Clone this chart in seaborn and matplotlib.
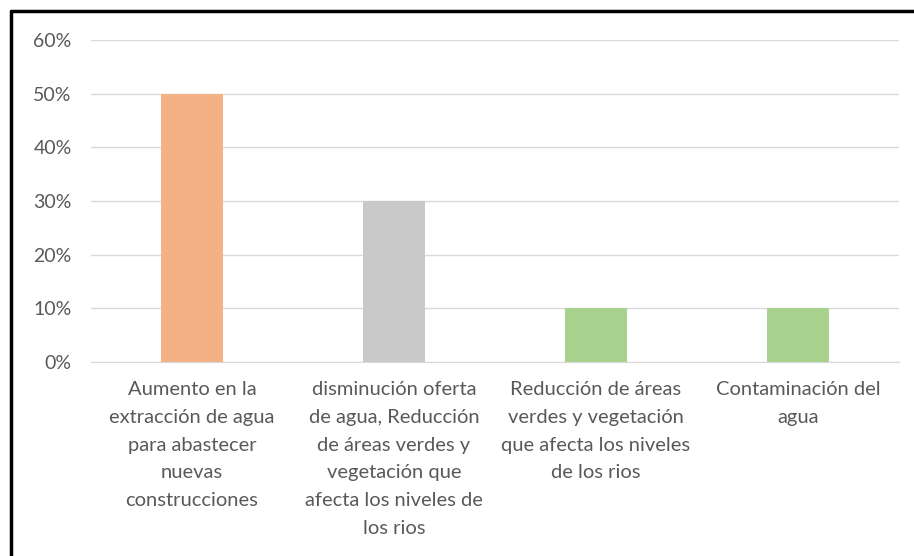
import matplotlib
matplotlib.use('Agg')
import matplotlib.pyplot as plt
import seaborn as sns
import pandas as pd
from matplotlib.lines import Line2D
from matplotlib.ticker import PercentFormatter

categories = [
    'Aumento en la\nextracción de agua\npara abastecer\nnuevas\nconstrucciones',
    'disminución oferta\nde agua, Reducción\nde áreas verdes y\nvegetación que\nafecta los niveles de\nlos rios',
    'Reducción de áreas\nverdes y vegetación\nque afecta los niveles\nde los rios',
    'Contaminación del\nagua',
]
values = [0.50, 0.30, 0.10, 0.10]
colors = ['#F4B183', '#C9C9C9', '#A9D18E', '#A9D18E']

df = pd.DataFrame({'cat': categories, 'val': values})

sns.set_style('white')
plt.rcParams['font.family'] = ['Lato', 'DejaVu Sans']

fig = plt.figure(figsize=(9.14, 5.56), dpi=100)
ax = fig.add_axes([0.0996, 0.349, 0.884, 0.579])
sns.barplot(data=df, x='cat', y='val', hue='cat', palette=colors,
            width=0.31, legend=False, ax=ax, saturation=1, linewidth=0)

ax.set_ylim(0, 0.6)
ax.set_yticks([0, 0.1, 0.2, 0.3, 0.4, 0.5, 0.6])
ax.yaxis.set_major_formatter(PercentFormatter(1.0, decimals=0))
ax.yaxis.grid(True, color='#D9D9D9', linewidth=1)
ax.set_axisbelow(True)
for s in ['top', 'right', 'left']:
    ax.spines[s].set_visible(False)
ax.spines['bottom'].set_color('#D9D9D9')
ax.set_xlabel('')
ax.set_ylabel('')
ax.tick_params(axis='y', length=0, pad=14, labelsize=14, labelcolor='#595959')
ax.tick_params(axis='x', length=0, pad=14, labelsize=14.5, labelcolor='#595959')
for lbl in ax.get_xticklabels():
    lbl.set_linespacing(1.76)
    lbl.set_horizontalalignment('center')

fig.add_artist(Line2D([0.0125, 1.0], [0.9795, 0.9795], color='black', linewidth=2.5))
fig.add_artist(Line2D([0.0125, 0.0125], [0.0, 0.9795], color='black', linewidth=2.5))

fig.savefig('out.png', dpi=100)
